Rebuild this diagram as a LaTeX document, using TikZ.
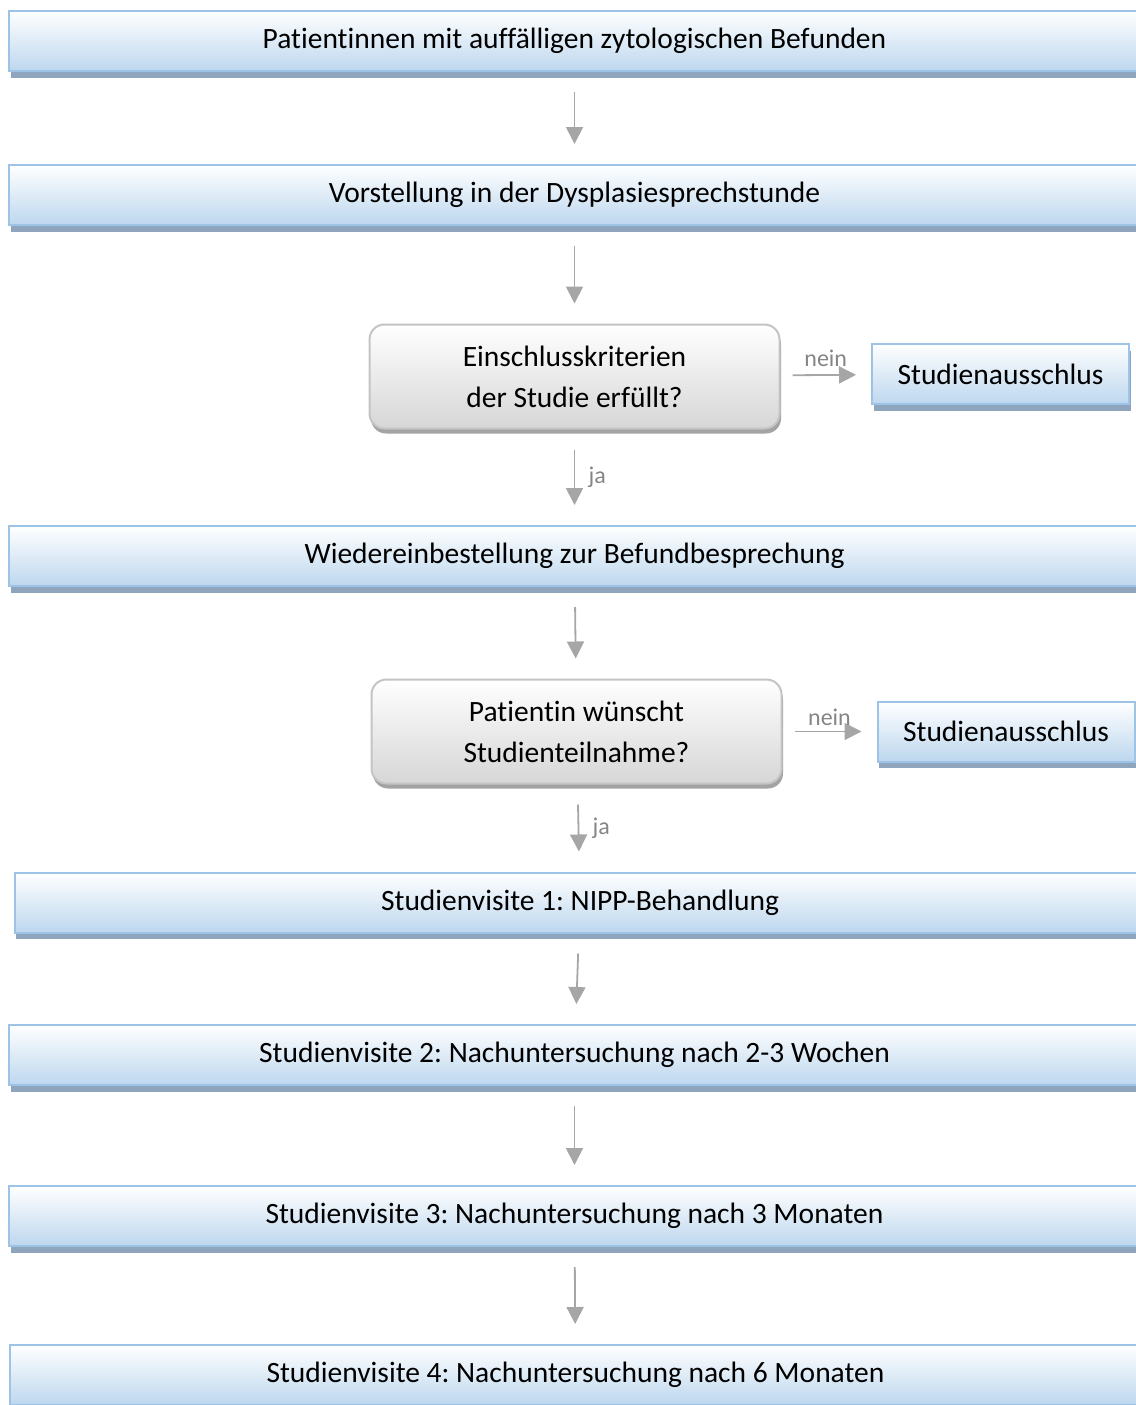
\documentclass[tikz,border=0pt]{standalone}
\usepackage{fontspec}
\setmainfont{Carlito}[Ligatures=NoCommon]
\usetikzlibrary{arrows.meta,positioning,shadows}
\definecolor{boxblue}{HTML}{BDD7EE}
\definecolor{boxline}{HTML}{9DC3E6}
\definecolor{boxshade}{HTML}{8EA5BD}
\definecolor{askgray}{HTML}{D6D6D6}
\definecolor{askline}{HTML}{C4C4C4}
\definecolor{askshade}{HTML}{A3A3A3}
\definecolor{arrowgray}{HTML}{A6A6A6}
\definecolor{labelgray}{HTML}{858585}
\frenchspacing

\begin{document}
\begin{tikzpicture}[x=1pt,y=-1pt,->,>={Triangle[width=17pt,length=17pt]},
  every edge/.style={draw=arrowgray,line width=1.8pt,shorten <=20pt,shorten >=20pt},
  font=\fontsize{29.5}{41}\selectfont,
  stage/.style={draw=boxline,line width=2pt,top color=white,bottom color=boxblue,
    minimum width=1131pt,minimum height=60pt,inner sep=0pt,
    drop shadow={shadow xshift=1.5pt,shadow yshift=-6.5pt,fill=boxshade,opacity=1}},
  ask/.style={draw=askline,line width=2pt,top color=white,bottom color=askgray,
    rounded corners=15pt,minimum width=410pt,minimum height=104pt,align=center,
    drop shadow={shadow xshift=1.5pt,shadow yshift=-5pt,fill=askshade,opacity=1}},
  quit/.style={stage,minimum width=257pt},
  answer/.style={text=labelgray,font=\fontsize{24}{27}\selectfont}]
  \useasboundingbox (0,0) rectangle (1135,1405);
  \node[stage]  (P)                                              at (574.5,41) {Patientinnen mit auffälligen zytologischen Befunden};
  \node[stage]  (V)  [below of=P,node distance=154pt]            {Vorstellung in der Dysplasiesprechstunde};
  \node[ask]    (E)  [below of=V,node distance=181.5pt]          {Einschlusskriterien\\der Studie erfüllt?};
  \node[quit]   (A1) [right of=E,node distance=426pt,yshift=2.5pt] {Studienausschlus};
  \node[stage]  (W)  [below of=E,node distance=179.5pt]          {Wiedereinbestellung zur Befundbesprechung};
  \node[ask]    (T)  [below of=W,node distance=175.5pt,xshift=2pt] {Patientin wünscht\\Studienteilnahme?};
  \node[quit]   (A2) [right of=T,node distance=429.5pt]          {Studienausschlus};
  \node[stage]  (S1) [below of=T,node distance=171pt,xshift=3.5pt] {Studienvisite 1: NIPP-Behandlung};
  \node[stage]  (S2) [below of=S1,node distance=152.5pt,xshift=-5.5pt] {Studienvisite 2: Nachuntersuchung nach 2-3 Wochen};
  \node[stage]  (S3) [below of=S2,node distance=161pt]           {Studienvisite 3: Nachuntersuchung nach 3 Monaten};
  \node[stage]  (S4) [below of=S3,node distance=159pt,xshift=1pt] {Studienvisite 4: Nachuntersuchung nach 6 Monaten};
  \path (P)  edge                                          (V)
        (V)  edge                                          (E)
        (E)  edge  node[answer,right=10pt] {ja}           (W)
             edge  [shorten <=12pt,shorten >=15pt]
                   node[answer,above=4pt]  {nein}         (A1)
        (W)  edge                                          (T)
        (T)  edge  node[answer,right=10pt] {ja}           (S1)
             edge  [shorten <=12pt,shorten >=15pt]
                   node[answer,above=2pt]  {nein}         (A2)
        (S1) edge                                          (S2)
        (S2) edge                                          (S3)
        (S3) edge                                          (S4);
\end{tikzpicture}
\end{document}
